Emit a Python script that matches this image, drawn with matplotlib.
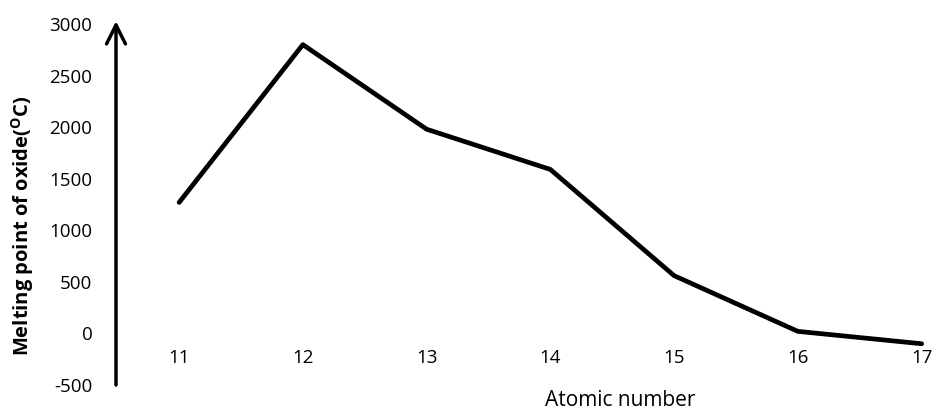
import matplotlib.pyplot as plt

atomic_number = [11, 12, 13, 14, 15, 16, 17]
melting_point = [1270, 2800, 1980, 1590, 560, 20, -100]
y_ticks = [-500, 0, 500, 1000, 1500, 2000, 2500, 3000]

plt.rcParams['font.family'] = ['Open Sans', 'DejaVu Sans']
plt.rcParams['mathtext.fontset'] = 'custom'
plt.rcParams['mathtext.rm'] = 'Open Sans'
plt.rcParams['mathtext.bf'] = 'Open Sans:bold'

fig = plt.figure(figsize=(9.36, 4.12), dpi=100)
# axes placed so the y axis sits at ~116px and 0 at ~333px
ax = fig.add_axes([116 / 936, 27 / 412, 818 / 936, 361 / 412])

ax.plot(atomic_number, melting_point, color='black', lw=3.4,
        solid_capstyle='round', solid_joinstyle='round', clip_on=False)

ax.set_xlim(10.49, 17.1)
ax.set_ylim(-500, 3000)
ax.set_xticks(atomic_number)
ax.set_xticklabels([str(n) for n in atomic_number])
ax.set_yticks(y_ticks)
ax.set_yticklabels([str(v) for v in y_ticks])

for side in ['top', 'right', 'left', 'bottom']:
    ax.spines[side].set_visible(False)
# labels of the category axis hang just under the zero line
ax.spines['bottom'].set_position(('data', 0))

ax.tick_params(axis='x', length=0, pad=11, labelsize=13.5)
ax.tick_params(axis='y', length=0, pad=17, labelsize=13.5)

# vertical axis drawn as an arrow
ax.annotate('', xy=(0, 1.008), xytext=(0, 0), xycoords='axes fraction',
            arrowprops=dict(arrowstyle='->', lw=2.5, color='black',
                            mutation_scale=34, shrinkA=0, shrinkB=0))

fig.text(23 / 936, 1 - 226 / 412, r'Melting point of oxide($\mathbf{^{O}}$C)',
         rotation=90, ha='center', va='center', fontsize=14.5, fontweight='bold')
fig.text(620 / 936, 1 - 401 / 412, 'Atomic number', ha='center', va='center',
         fontsize=15)

fig.savefig('out.png', dpi=100)
